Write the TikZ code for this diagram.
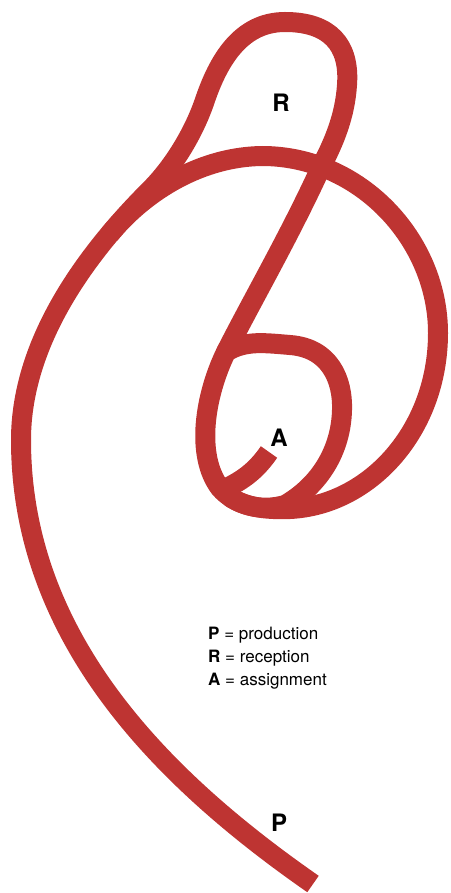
\documentclass[tikz,border=0pt]{standalone}
\usepackage{fontspec}
\setmainfont{TeX Gyre Heros}
\definecolor{cordred}{RGB}{190,52,50}

\begin{document}
\begin{tikzpicture}[
  x=1pt,y=-1pt,
  strand/.style={draw=cordred,line width=20pt,line join=round},
  tag/.style={inner sep=0pt,font=\bfseries\fontsize{24}{24}\selectfont},
  key/.style={inner sep=0pt,anchor=base west,font=\fontsize{17}{20}\selectfont}
]
  \useasboundingbox (0,0) rectangle (450,893);

  % stem from P, over the R loop, down the diagonal
  \draw[strand] (313,884) .. controls (165,781) and (21,640) .. (21,440)
    .. controls (21,375) and (50,290) .. (150,190)
    .. controls (175,165) and (195,130) .. (205,100)
    .. controls (218,62) and (240,22) .. (285,22)
    .. controls (330,22) and (350,45) .. (347,85)
    .. controls (345,115) and (335,140) .. (322,165)
    .. controls (290,235) and (255,295) .. (226,352);
  % big outer circle
  \draw[strand] (109.6,234.3) .. controls (140,197) and (195,157) .. (262,156)
    .. controls (360,156) and (438,240) .. (438,333)
    .. controls (438,430) and (370,505) .. (290,509)
    .. controls (265,510) and (245,507) .. (230,497);
  % inner ring
  \draw[strand] (226,352) .. controls (245,340) and (265,343) .. (290,345)
    .. controls (330,348) and (343,380) .. (342,410)
    .. controls (341,450) and (320,485) .. (285,505)
    .. controls (260,512) and (235,505) .. (220,488)
    .. controls (195,455) and (205,395) .. (226,352) -- cycle;
  % hook ending at A
  \draw[strand] (269,452) .. controls (258,468) and (245,480) .. (222,490);

  \node[tag] (R) at (281,103) {R};
  \node[tag] (A) at (279,438) {A};
  \node[tag] (P) at (279,823) {P};

  \node[key] (keyP) at (208,639) {\textbf{P} = production};
  \node[key] (keyR) at ([yshift=-23.3pt]keyP.base west) {\textbf{R} = reception};
  \node[key] (keyA) at ([yshift=-23.3pt]keyR.base west) {\textbf{A} = assignment};
\end{tikzpicture}
\end{document}
